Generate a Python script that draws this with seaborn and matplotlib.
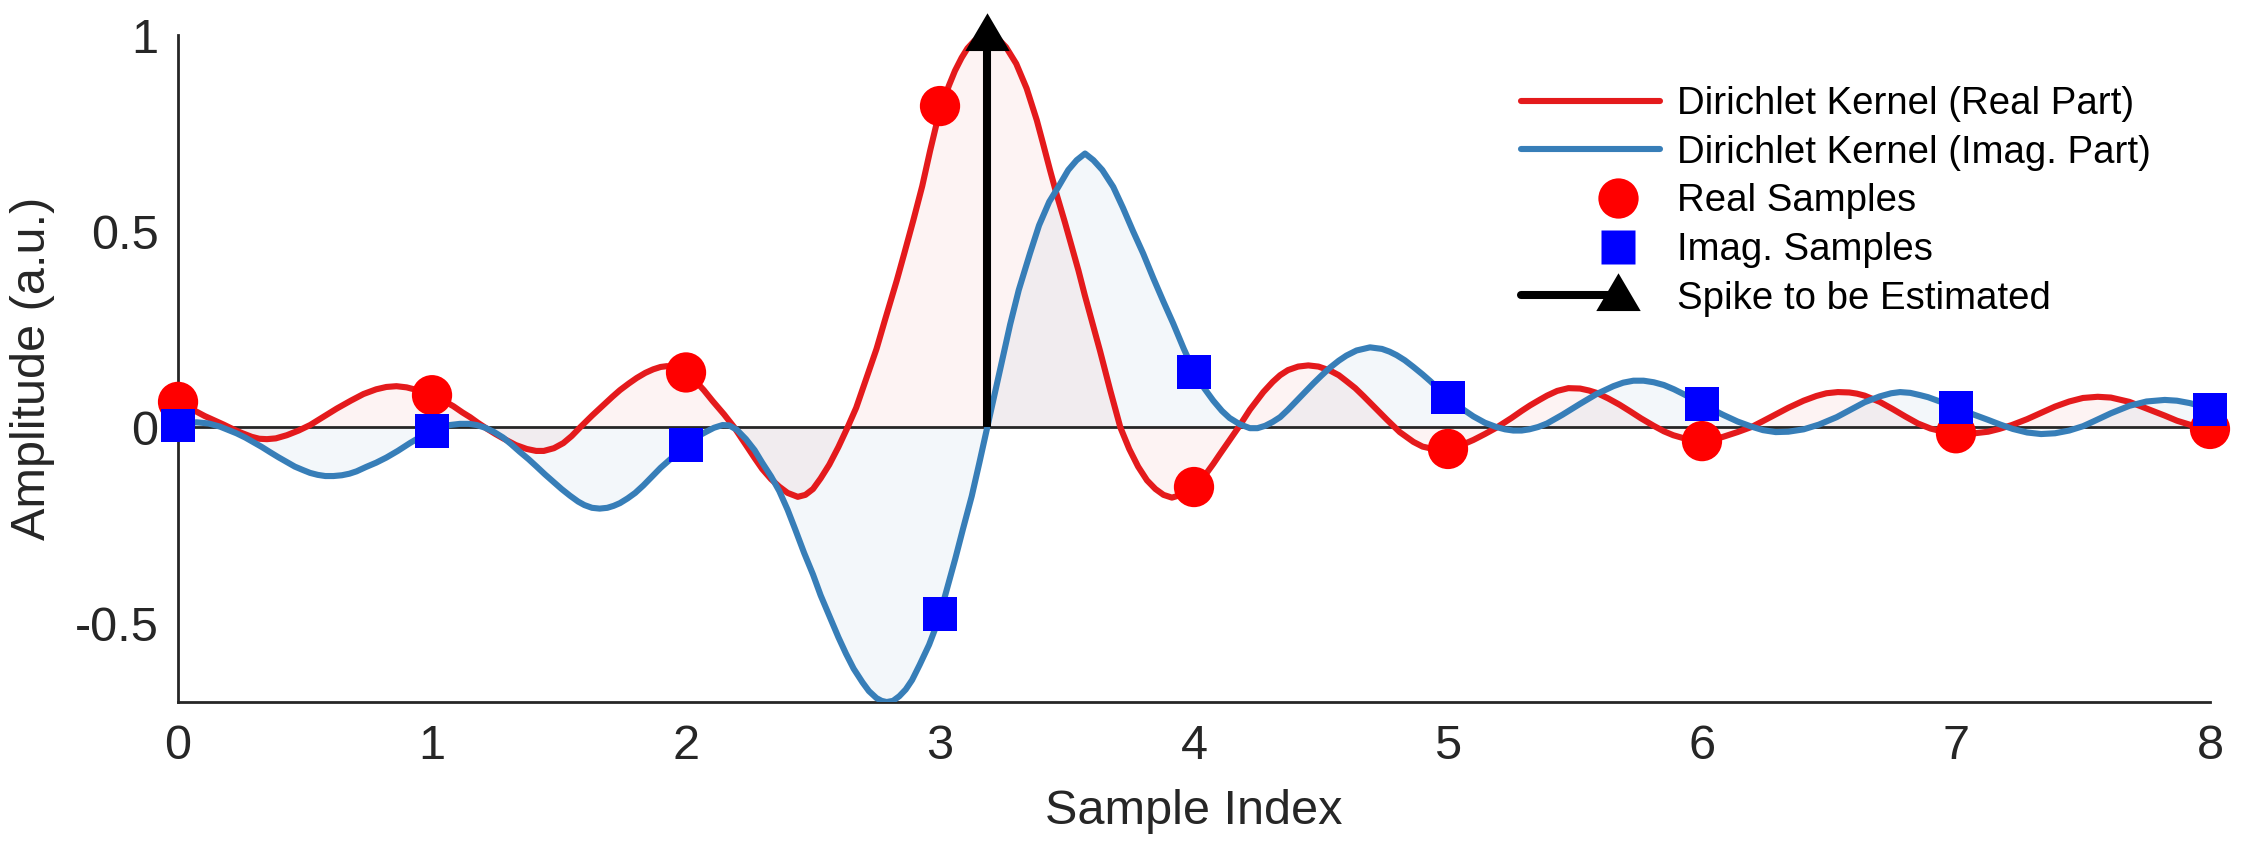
import numpy as np
import pandas as pd
import matplotlib
matplotlib.use("Agg")
import matplotlib.pyplot as plt
import seaborn as sns
from matplotlib.lines import Line2D
from matplotlib.legend_handler import HandlerLine2D

# ---------------- data ----------------
real_x = [0.0, 0.04, 0.073, 0.105, 0.139, 0.18, 0.218, 0.25, 0.29, 0.32, 0.35, 0.385,
          0.428, 0.475, 0.52, 0.57, 0.625, 0.68, 0.73, 0.78, 0.82, 0.86, 0.90, 0.93,
          0.965, 1.0, 1.04, 1.084, 1.12, 1.15, 1.18, 1.215, 1.25, 1.28, 1.33, 1.373,
          1.41, 1.44, 1.48, 1.517, 1.55, 1.583, 1.63, 1.675, 1.71, 1.74, 1.775, 1.806,
          1.84, 1.871, 1.9, 1.924, 1.95, 1.975, 2.0, 2.035, 2.07, 2.105, 2.15, 2.19,
          2.236, 2.27, 2.30, 2.335, 2.367, 2.40, 2.44, 2.47, 2.50, 2.53, 2.564, 2.60,
          2.636, 2.67, 2.71, 2.75, 2.783, 2.83, 2.86, 2.895, 2.93, 2.961, 2.985, 3.007,
          3.035, 3.059, 3.085, 3.108, 3.135, 3.16, 3.186, 3.21, 3.235, 3.26, 3.30, 3.341,
          3.381, 3.405, 3.433, 3.46, 3.492, 3.52, 3.545, 3.57, 3.597, 3.63, 3.67, 3.71,
          3.745, 3.78, 3.815, 3.848, 3.88, 3.913, 3.95, 4.0, 4.04, 4.076, 4.1, 4.129,
          4.175, 4.22, 4.273, 4.31, 4.339, 4.37, 4.41, 4.45, 4.49, 4.535, 4.57, 4.6,
          4.635, 4.667, 4.71, 4.759, 4.81, 4.864, 4.90, 4.942, 4.97, 5.0, 5.05, 5.1,
          5.145, 5.19, 5.25, 5.29, 5.323, 5.36, 5.39, 5.43, 5.474, 5.52, 5.555, 5.585,
          5.63, 5.675, 5.717, 5.76, 5.81, 5.85, 5.887, 5.93, 5.965, 6.0, 6.04, 6.083,
          6.14, 6.195, 6.24, 6.29, 6.34, 6.4, 6.45, 6.49, 6.535, 6.58, 6.61, 6.64,
          6.7, 6.75, 6.8, 6.85, 6.9, 6.95, 7.0, 7.06, 7.127, 7.17, 7.22, 7.28,
          7.335, 7.39, 7.446, 7.5, 7.558, 7.61, 7.683, 7.75, 7.822, 7.87, 7.92, 7.96, 8.0]
real_y = [0.065, 0.052, 0.04, 0.029, 0.019, 0.007, -0.005, -0.014, -0.024, -0.029, -0.03, -0.028,
          -0.02, -0.008, 0.006, 0.026, 0.048, 0.068, 0.085, 0.097, 0.103, 0.105, 0.102, 0.097,
          0.09, 0.082, 0.07, 0.054, 0.038, 0.026, 0.012, -0.003, -0.017, -0.028, -0.045, -0.055,
          -0.06, -0.06, -0.053, -0.04, -0.022, 0.0, 0.03, 0.057, 0.078, 0.095, 0.112, 0.126,
          0.139, 0.148, 0.154, 0.156, 0.155, 0.149, 0.14, 0.12, 0.095, 0.067, 0.033, 0.0,
          -0.045, -0.078, -0.106, -0.132, -0.151, -0.167, -0.177, -0.172, -0.157, -0.13, -0.095, -0.05,
          0.0, 0.05, 0.125, 0.2, 0.273, 0.375, 0.445, 0.528, 0.615, 0.705, 0.77, 0.819,
          0.871, 0.909, 0.942, 0.966, 0.985, 0.996, 1.0, 0.997, 0.986, 0.969, 0.927, 0.864,
          0.783, 0.725, 0.656, 0.592, 0.522, 0.458, 0.40, 0.337, 0.273, 0.195, 0.095, 0.0,
          -0.055, -0.10, -0.135, -0.157, -0.172, -0.179, -0.172, -0.152, -0.125, -0.093, -0.07, -0.043,
          0.0, 0.045, 0.09, 0.116, 0.133, 0.146, 0.155, 0.158, 0.155, 0.145, 0.133, 0.118,
          0.1, 0.08, 0.052, 0.02, -0.012, -0.037, -0.049, -0.055, -0.056, -0.055, -0.046, -0.032,
          -0.017, -0.001, 0.024, 0.042, 0.056, 0.07, 0.081, 0.093, 0.1, 0.099, 0.094, 0.088,
          0.074, 0.058, 0.041, 0.023, 0.004, -0.01, -0.02, -0.028, -0.033, -0.035, -0.032, -0.024,
          -0.012, 0.001, 0.016, 0.033, 0.05, 0.068, 0.08, 0.087, 0.09, 0.089, 0.086, 0.081,
          0.065, 0.047, 0.028, 0.01, -0.003, -0.011, -0.015, -0.016, -0.011, -0.004, 0.006, 0.021,
          0.037, 0.053, 0.066, 0.075, 0.078, 0.076, 0.065, 0.048, 0.03, 0.017, 0.007, 0.001, -0.004]

imag_x = [0.0, 0.035, 0.073, 0.12, 0.165, 0.2, 0.23, 0.265, 0.30, 0.33, 0.362, 0.395,
          0.43, 0.46, 0.493, 0.52, 0.55, 0.58, 0.612, 0.645, 0.675, 0.703, 0.74, 0.78,
          0.82, 0.865, 0.913, 0.955, 1.0, 1.035, 1.07, 1.11, 1.145, 1.176, 1.21, 1.245,
          1.28, 1.31, 1.345, 1.38, 1.412, 1.445, 1.48, 1.51, 1.543, 1.575, 1.60, 1.63,
          1.66, 1.69, 1.715, 1.74, 1.77, 1.80, 1.832, 1.87, 1.90, 1.937, 1.97, 2.0,
          2.04, 2.08, 2.11, 2.144, 2.17, 2.20, 2.236, 2.27, 2.30, 2.335, 2.367, 2.40,
          2.43, 2.465, 2.50, 2.53, 2.564, 2.60, 2.63, 2.66, 2.695, 2.72, 2.75, 2.77,
          2.79, 2.815, 2.84, 2.865, 2.89, 2.92, 2.957, 2.98, 3.0, 3.03, 3.06, 3.09,
          3.125, 3.155, 3.186, 3.215, 3.245, 3.276, 3.31, 3.354, 3.39, 3.43, 3.466, 3.505,
          3.538, 3.571, 3.604, 3.639, 3.682, 3.72, 3.76, 3.80, 3.84, 3.88, 3.918, 3.96,
          4.0, 4.04, 4.076, 4.11, 4.14, 4.18, 4.22, 4.25, 4.28, 4.31, 4.339, 4.37,
          4.404, 4.44, 4.47, 4.50, 4.535, 4.57, 4.6, 4.64, 4.693, 4.74, 4.77, 4.798,
          4.83, 4.864, 4.90, 4.93, 4.965, 5.0, 5.05, 5.1, 5.145, 5.19, 5.225, 5.257,
          5.29, 5.32, 5.355, 5.39, 5.45, 5.52, 5.585, 5.651, 5.69, 5.73, 5.77, 5.81,
          5.85, 5.89, 5.927, 5.965, 6.0, 6.04, 6.083, 6.14, 6.195, 6.24, 6.29, 6.34,
          6.4, 6.46, 6.53, 6.585, 6.64, 6.7, 6.745, 6.78, 6.82, 6.86, 6.89, 6.945,
          7.0, 7.06, 7.127, 7.175, 7.224, 7.28, 7.335, 7.39, 7.446, 7.5, 7.544, 7.61,
          7.683, 7.75, 7.822, 7.87, 7.92, 7.96, 8.0]
imag_y = [0.005, 0.011, 0.013, 0.01, 0.002, -0.007, -0.015, -0.026, -0.039, -0.05, -0.063, -0.076,
          -0.089, -0.1, -0.109, -0.116, -0.121, -0.124, -0.124, -0.122, -0.118, -0.112, -0.101, -0.09,
          -0.077, -0.06, -0.04, -0.024, -0.009, 0.0, 0.006, 0.009, 0.009, 0.006, -0.001, -0.012,
          -0.026, -0.042, -0.062, -0.081, -0.1, -0.12, -0.14, -0.157, -0.174, -0.189, -0.198, -0.205,
          -0.207, -0.205, -0.2, -0.193, -0.181, -0.167, -0.148, -0.123, -0.103, -0.082, -0.063, -0.045,
          -0.025, -0.011, -0.001, 0.006, 0.005, -0.006, -0.03, -0.058, -0.09, -0.125, -0.162, -0.21,
          -0.26, -0.32, -0.375, -0.428, -0.48, -0.535, -0.577, -0.615, -0.65, -0.672, -0.69, -0.697,
          -0.70, -0.697, -0.685, -0.668, -0.644, -0.605, -0.554, -0.515, -0.476, -0.405, -0.335, -0.26,
          -0.175, -0.09, 0.0, 0.085, 0.17, 0.262, 0.35, 0.443, 0.515, 0.575, 0.613, 0.656,
          0.681, 0.698, 0.681, 0.656, 0.613, 0.56, 0.50, 0.443, 0.38, 0.32, 0.265, 0.2,
          0.143, 0.1, 0.068, 0.042, 0.024, 0.008, -0.002, -0.002, 0.004, 0.014, 0.026, 0.045,
          0.068, 0.092, 0.112, 0.131, 0.152, 0.17, 0.183, 0.196, 0.204, 0.2, 0.193, 0.184,
          0.171, 0.154, 0.135, 0.118, 0.097, 0.077, 0.05, 0.028, 0.012, 0.001, -0.005, -0.008,
          -0.008, -0.005, 0.001, 0.01, 0.032, 0.06, 0.085, 0.105, 0.114, 0.119, 0.119, 0.115,
          0.108, 0.097, 0.085, 0.072, 0.06, 0.046, 0.032, 0.015, 0.002, -0.007, -0.012, -0.011,
          -0.005, 0.007, 0.026, 0.045, 0.064, 0.079, 0.087, 0.09, 0.088, 0.082, 0.077, 0.064,
          0.05, 0.035, 0.019, 0.007, -0.004, -0.013, -0.017, -0.015, -0.008, 0.003, 0.016, 0.036,
          0.055, 0.066, 0.07, 0.068, 0.062, 0.055, 0.045]

sample_idx = [0, 1, 2, 3, 4, 5, 6, 7, 8]
real_samples = [0.065, 0.082, 0.14, 0.819, -0.152, -0.055, -0.035, -0.015, -0.004]
imag_samples = [0.005, -0.009, -0.045, -0.476, 0.141, 0.077, 0.06, 0.05, 0.045]

spike_pos = 3.186
spike_amp = 1.0

x_ticks = [0, 1, 2, 3, 4, 5, 6, 7, 8]
y_ticks = [-0.5, 0, 0.5, 1]
y_tick_labels = ["-0.5", "0", "0.5", "1"]
legend_labels = ["Dirichlet Kernel (Real Part)", "Dirichlet Kernel (Imag. Part)",
                 "Real Samples", "Imag. Samples", "Spike to be Estimated"]

# ---------------- style ----------------
RED = "#E41A1C"
BLUE = "#377EB8"
DARK = "#262626"
LW = 2.2

sns.set_theme(style="white")
plt.rcParams["font.family"] = ["Liberation Sans", "DejaVu Sans"]
plt.rcParams["axes.unicode_minus"] = False

fig = plt.figure(figsize=(11.225, 4.22), dpi=200)
ax = fig.add_axes([0.0793, 0.1682, 0.9051, 0.7903])

real_df = pd.DataFrame({"x": real_x, "y": real_y})
imag_df = pd.DataFrame({"x": imag_x, "y": imag_y})
samp_df = pd.DataFrame({"n": sample_idx, "re": real_samples, "im": imag_samples})

ax.fill_between(real_df["x"], real_df["y"], 0, color=RED, alpha=0.05, lw=0, zorder=1)
ax.fill_between(imag_df["x"], imag_df["y"], 0, color=BLUE, alpha=0.06, lw=0, zorder=1)
ax.axhline(0, color=DARK, lw=1.0, zorder=1.5)

sns.lineplot(data=real_df, x="x", y="y", color=RED, linewidth=LW, estimator=None,
             sort=False, ax=ax, zorder=3, solid_joinstyle="round")
sns.lineplot(data=imag_df, x="x", y="y", color=BLUE, linewidth=LW, estimator=None,
             sort=False, ax=ax, zorder=3.1, solid_joinstyle="round")

tri = [(0, 1), (-1, -0.7), (1, -0.7), (0, 1)]
ax.plot([spike_pos, spike_pos], [0, spike_amp], color="black", lw=2.9,
        solid_capstyle="butt", zorder=6)
ax.plot([spike_pos], [spike_amp], ls="None", marker=tri, ms=16, color="black",
        mec="none", clip_on=False, zorder=6)

sns.scatterplot(data=samp_df, x="n", y="re", marker="o", s=14.5 ** 2, color="#FF0000",
                linewidth=0, edgecolor="none", ax=ax, zorder=5, clip_on=False)
sns.scatterplot(data=samp_df, x="n", y="im", marker="s", s=12 ** 2, color="#0000FF",
                linewidth=0, edgecolor="none", ax=ax, zorder=5.1, clip_on=False)

ax.set_xlim(0, 8)
ax.set_ylim(-0.7, 1)
ax.set_xticks(x_ticks)
ax.set_yticks(y_ticks)
ax.set_yticklabels(y_tick_labels)
for s in ["top", "right"]:
    ax.spines[s].set_visible(False)
for s in ["left", "bottom"]:
    ax.spines[s].set_color(DARK)
    ax.spines[s].set_linewidth(1.0)
ax.tick_params(direction="in", length=7, width=1.0, color=DARK, labelcolor=DARK,
               labelsize=17.5)
ax.tick_params(axis="x", pad=8)
ax.tick_params(axis="y", pad=7)
ax.set_xlabel("Sample Index", fontsize=17.5, color=DARK, labelpad=7)
ax.set_ylabel("Amplitude (a.u.)", fontsize=17.5, color=DARK, labelpad=7)


class HandlerFrac(HandlerLine2D):
    def __init__(self, mfrac, lfrac, **kw):
        super().__init__(**kw)
        self.mfrac = mfrac
        self.lfrac = lfrac

    def create_artists(self, legend, orig_handle, xdescent, ydescent, width, height,
                       fontsize, trans):
        y = (height - ydescent) / 2.0
        arts = []
        if self.lfrac > 0:
            line = Line2D([-xdescent, -xdescent + width * self.lfrac], [y, y])
            self.update_prop(line, orig_handle, legend)
            line.set_marker("None")
            line.set_transform(trans)
            arts.append(line)
        mk = Line2D([-xdescent + width * self.mfrac], [y])
        self.update_prop(mk, orig_handle, legend)
        mk.set_linestyle("None")
        mk.set_transform(trans)
        arts.append(mk)
        return arts


h1 = Line2D([], [], color=RED, lw=LW)
h2 = Line2D([], [], color=BLUE, lw=LW)
h3 = Line2D([], [], ls="None", marker="o", ms=14.5, mfc="#FF0000", mec="none")
h4 = Line2D([], [], ls="None", marker="s", ms=12, mfc="#0000FF", mec="none")
h5 = Line2D([], [], color="black", lw=2.9, marker=tri, ms=16, mfc="black", mec="none")

leg = ax.legend([h1, h2, h3, h4, h5], legend_labels,
                handler_map={h3: HandlerFrac(0.7, 0), h4: HandlerFrac(0.7, 0),
                             h5: HandlerFrac(0.7, 0.7)},
                frameon=False, loc="upper left", bbox_to_anchor=(0.6775, 0.898),
                bbox_transform=fig.transFigure, fontsize=13.8, handlelength=3.62,
                handletextpad=0.45, labelspacing=0.33, borderpad=0, borderaxespad=0)
for t in leg.get_texts():
    t.set_color("black")

fig.savefig("out.png", dpi=200)
